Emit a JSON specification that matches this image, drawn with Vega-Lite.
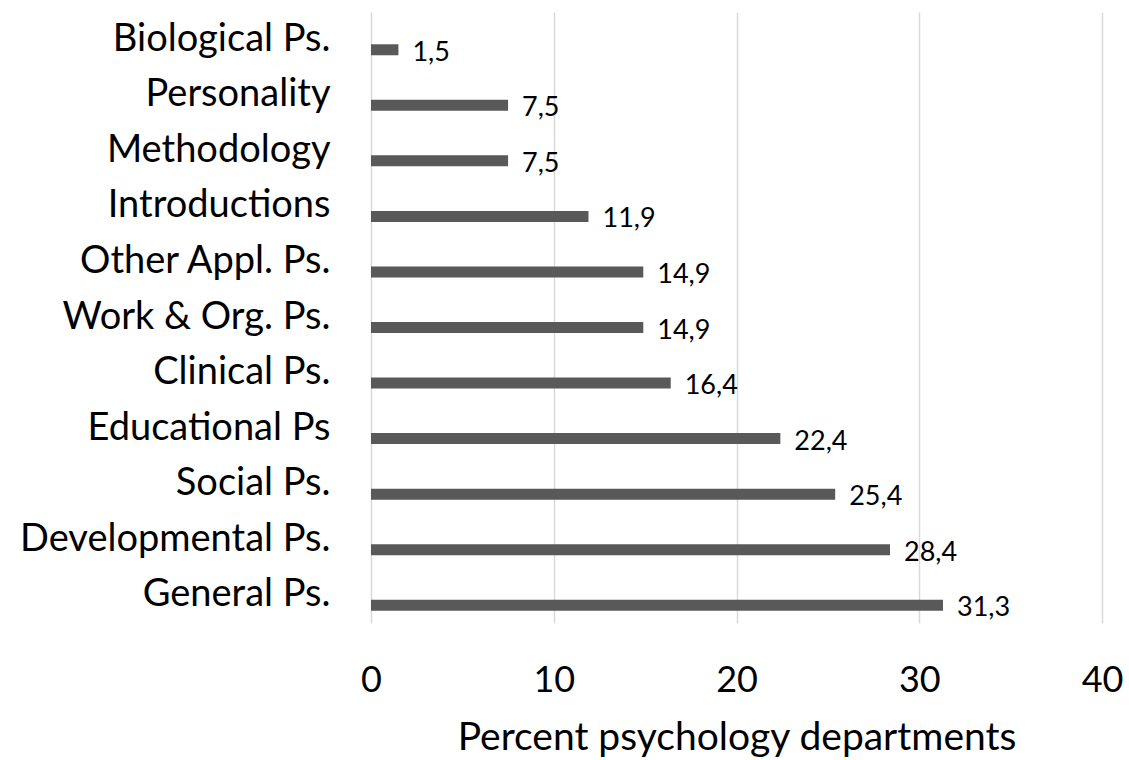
{
  "$schema": "https://vega.github.io/schema/vega-lite/v6.json",
  "autosize": "none",
  "width": 731,
  "height": 611,
  "padding": {"left": 371, "top": 12, "right": 27, "bottom": 137},
  "background": "white",
  "config": {
    "locale": {"number": {"decimal": ",", "thousands": ".", "grouping": [3], "currency": ["", " €"]}},
    "view": {"stroke": null},
    "font": "Lato"
  },
  "data": {
    "values": [
      {"field": "Biological Ps.", "percent": 1.5},
      {"field": "Personality", "percent": 7.5},
      {"field": "Methodology", "percent": 7.5},
      {"field": "Introductions", "percent": 11.9},
      {"field": "Other Appl. Ps.", "percent": 14.9},
      {"field": "Work & Org. Ps.", "percent": 14.9},
      {"field": "Clinical Ps.", "percent": 16.4},
      {"field": "Educational Ps", "percent": 22.4},
      {"field": "Social Ps.", "percent": 25.4},
      {"field": "Developmental Ps.", "percent": 28.4},
      {"field": "General Ps.", "percent": 31.3}
    ]
  },
  "encoding": {
    "y": {
      "field": "field",
      "type": "nominal",
      "sort": ["Biological Ps.", "Personality", "Methodology", "Introductions", "Other Appl. Ps.", "Work & Org. Ps.", "Clinical Ps.", "Educational Ps", "Social Ps.", "Developmental Ps.", "General Ps."],
      "scale": {"paddingInner": 0, "paddingOuter": 0},
      "axis": {
        "title": null,
        "domain": false,
        "ticks": false,
        "labelFont": "Lato",
        "labelFontSize": 38,
        "labelColor": "#000000",
        "labelPadding": 41,
        "labelLimit": 500
      }
    },
    "x": {
      "field": "percent",
      "type": "quantitative",
      "scale": {"domain": [0, 40], "nice": false},
      "axis": {
        "values": [0, 10, 20, 30, 40],
        "format": "d",
        "title": "Percent psychology departments",
        "titleFont": "Lato",
        "titleFontSize": 39,
        "titleFontWeight": "normal",
        "titleColor": "#000000",
        "titlePadding": 20,
        "domain": false,
        "ticks": false,
        "grid": true,
        "gridColor": "#d9d9d9",
        "gridWidth": 1.5,
        "labelFont": "Lato",
        "labelFontSize": 36,
        "labelColor": "#000000",
        "labelPadding": 40,
        "labelFlush": false,
        "labelOverlap": false
      }
    }
  },
  "layer": [
    {
      "mark": {"type": "bar", "color": "#595959", "size": 11, "yOffset": 10}
    },
    {
      "mark": {"type": "text", "align": "left", "baseline": "middle", "dx": 14, "yOffset": 13, "fontSize": 27, "font": "Lato", "color": "#000000"},
      "encoding": {"text": {"field": "percent", "type": "quantitative", "format": ".1f"}}
    }
  ]
}
